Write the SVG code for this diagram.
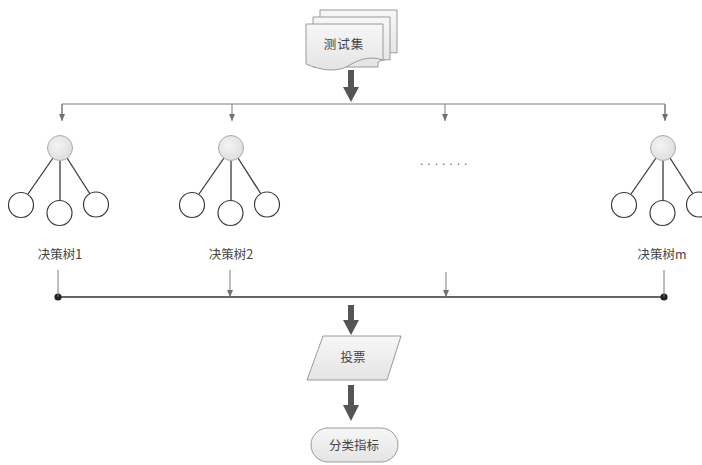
<svg xmlns="http://www.w3.org/2000/svg" width="702" height="465" viewBox="0 0 702 465">
<defs>
<linearGradient id="g" x1="0" y1="0" x2="0" y2="1"><stop offset="0" stop-color="#f7f7f7"/><stop offset="1" stop-color="#e4e4e4"/></linearGradient>
<radialGradient id="rg" cx="0.4" cy="0.4" r="0.7"><stop offset="0" stop-color="#f4f4f4"/><stop offset="1" stop-color="#dcdcdc"/></radialGradient>
<marker id="ah" markerWidth="8" markerHeight="8" refX="7" refY="4" orient="auto" markerUnits="userSpaceOnUse"><path d="M0,1 L7,4 L0,7 Z" fill="#707070"/></marker>
<marker id="dot" markerWidth="8" markerHeight="8" refX="4" refY="4" markerUnits="userSpaceOnUse"><circle cx="4" cy="4" r="3.6" fill="#222"/></marker>
<g id="tree">
<line x1="53" y1="158" x2="28" y2="194" class="tl"/>
<line x1="60" y1="161" x2="60" y2="200" class="tl"/>
<line x1="67" y1="158" x2="90" y2="194" class="tl"/>
<circle cx="60" cy="148" r="12.5" class="root"/>
<circle cx="21" cy="205" r="12.5" class="leaf"/>
<circle cx="59.5" cy="213" r="12.5" class="leaf"/>
<circle cx="96" cy="204.5" r="12.5" class="leaf"/>
</g>
</defs>
<style>
.t{font-family:"Noto Sans CJK SC","Liberation Sans",sans-serif;font-size:12.5px;fill:#444;text-anchor:middle}
.shape{fill:url(#g);stroke:#9a9a9a;stroke-width:1}
.tl{stroke:#3a3a3a;stroke-width:1.3}
.root{fill:url(#rg);stroke:#aaa;stroke-width:1}
.leaf{fill:#fff;stroke:#3a3a3a;stroke-width:1.2}
.thin{stroke:#7a7a7a;stroke-width:1;fill:none}
.bar{stroke:#333;stroke-width:1.3;fill:none}
.big{fill:#555}
</style>
<rect width="702" height="465" fill="#fff"/>

<g id="testset">
<path class="shape" d="M320,10 H397 V53 C392,52 388,53 385,55 L385,55 V60 H320 Z"/>
<path class="shape" d="M313,17 H390 V60 C385,59 381,60 378,62 V67 H313 Z"/>
<path class="shape" d="M306,24 H383 V60 C368,55 356,61 348,66 C336,73 320,70 306,64 Z"/>
<text class="t" x="344" y="49" letter-spacing="1">测试集</text>
</g>

<g id="trees">
<g id="tree1"><use href="#tree"/><text class="t" x="60" y="259">决策树1</text></g>
<g id="tree2"><use href="#tree" transform="translate(171,0)"/><text class="t" x="231" y="259">决策树2</text></g>
<g id="treem"><use href="#tree" transform="translate(603,0)"/><text class="t" x="662" y="259">决策树m</text></g>
<g id="dots"><text x="420" y="165" letter-spacing="4" style="font-family:'Liberation Sans',sans-serif;font-size:12px;fill:#555">.......</text></g>
</g>

<g id="vote">
<path class="shape" d="M323,336 H401 L387,380 H307 Z"/>
<text class="t" x="353" y="362">投票</text>
</g>

<g id="result">
<rect class="shape" x="311" y="428" width="87" height="34" rx="17" ry="17"/>
<text class="t" x="354" y="450">分类指标</text>
</g>

<g id="connectors">
<path class="big" d="M348,70 H354 V87 H359 L351,102 L343,87 H348 Z"/>
<path class="thin" d="M62,120 V104 H665 V120"/>
<line class="thin" x1="62" y1="104" x2="62" y2="121" marker-end="url(#ah)"/>
<line class="thin" x1="232" y1="104" x2="232" y2="121" marker-end="url(#ah)"/>
<line class="thin" x1="445" y1="104" x2="445" y2="121" marker-end="url(#ah)"/>
<line class="thin" x1="665" y1="104" x2="665" y2="121" marker-end="url(#ah)"/>

<line class="bar" x1="58" y1="297" x2="664" y2="297" marker-start="url(#dot)" marker-end="url(#dot)"/>
<line class="thin" x1="58" y1="270" x2="58" y2="297"/>
<line class="thin" x1="664" y1="270" x2="664" y2="297"/>
<line class="thin" x1="230" y1="270" x2="230" y2="297" marker-end="url(#ah)"/>
<line class="thin" x1="446" y1="272" x2="446" y2="297" marker-end="url(#ah)"/>

<path class="big" d="M348,305 H354 V320 H359 L351,335 L343,320 H348 Z"/>
<path class="big" d="M348,385 H354 V405 H359 L351,421 L343,405 H348 Z"/>
</g>
</svg>
